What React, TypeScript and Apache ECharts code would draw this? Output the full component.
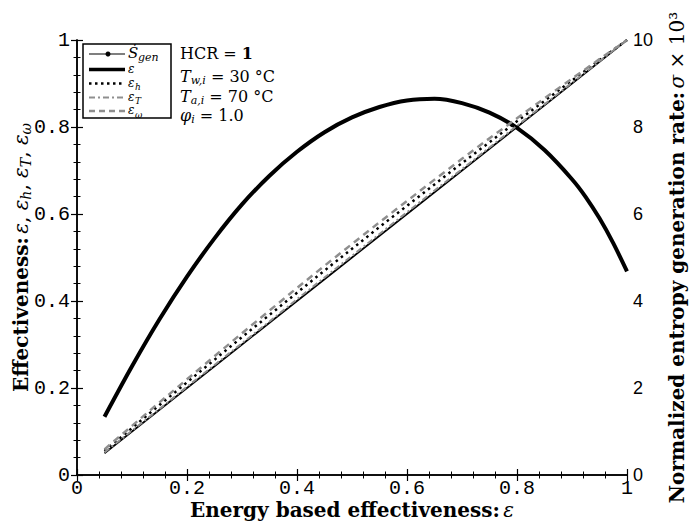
import React, { useEffect, useRef } from "react";
import * as echarts from "echarts";

const xTicks = [0, 0.2, 0.4, 0.6, 0.8, 1];
const sigmaX = [0.05, 0.1, 0.15, 0.2, 0.25, 0.3, 0.35, 0.4, 0.45, 0.5, 0.55, 0.6, 0.65, 0.7, 0.75, 0.8, 0.85, 0.9, 0.925, 0.95, 0.975, 1.0];
const sigmaVals = [1.34, 2.5, 3.58, 4.56, 5.44, 6.22, 6.88, 7.43, 7.88, 8.22, 8.46, 8.61, 8.65, 8.55, 8.33, 7.98, 7.47, 6.8, 6.39, 5.9, 5.33, 4.68];
const xVals = [0.05, 0.1, 0.15, 0.2, 0.25, 0.3, 0.35, 0.4, 0.45, 0.5, 0.55, 0.6, 0.65, 0.7, 0.75, 0.8, 0.85, 0.9, 0.95, 1.0];
const epsVals = [0.05, 0.1, 0.15, 0.2, 0.25, 0.3, 0.35, 0.4, 0.45, 0.5, 0.55, 0.6, 0.65, 0.7, 0.75, 0.8, 0.85, 0.9, 0.95, 1.0];
const epsHVals = [0.055, 0.108, 0.161, 0.213, 0.265, 0.317, 0.368, 0.419, 0.47, 0.52, 0.57, 0.619, 0.668, 0.717, 0.765, 0.813, 0.86, 0.907, 0.954, 1.0];
const epsTVals = [0.052, 0.102, 0.152, 0.203, 0.253, 0.303, 0.353, 0.404, 0.454, 0.504, 0.554, 0.604, 0.654, 0.703, 0.753, 0.803, 0.852, 0.902, 0.951, 1.0];
const epsWVals = [0.059, 0.113, 0.167, 0.22, 0.273, 0.326, 0.378, 0.43, 0.481, 0.531, 0.581, 0.63, 0.679, 0.727, 0.774, 0.82, 0.866, 0.911, 0.956, 1.0];

const legendMain = ["Ṡ", "ε", "ε", "ε", "ε"];
const legendSub = ["gen", "", "h", "T", "ω"];
const infoLines = ["{n|HCR = }{b|1}", "{i|T}{s|w,i}{n| = 30 °C}", "{i|T}{s|a,i}{n| = 70 °C}", "{i|φ}{s|i}{n| = 1.0}"];

const SERIF = "DejaVu Serif";
const GRAY = "#8f8f8f";

const pairs = (xs: number[], ys: number[]) => xs.map((x, i) => [x, ys[i]]);

export default function App() {
  const ref = useRef<HTMLDivElement>(null);
  useEffect(() => {
    if (!ref.current) return;
    const chart = echarts.init(ref.current, undefined, { renderer: "svg" });
    const tickCommon = {
      axisLine: { show: true, lineStyle: { color: "#000", width: 1.5 } },
      axisTick: { show: true, inside: true, length: 6, lineStyle: { color: "#000", width: 1.2 } },
      minorTick: { show: true, splitNumber: 5, length: 3.5, lineStyle: { color: "#000", width: 1 } },
      splitLine: { show: false },
      minorSplitLine: { show: false },
    };
    const mkRich = (lh: number) => ({
      b: { fontFamily: SERIF, fontWeight: "bold", fontSize: 20, color: "#000", lineHeight: lh },
      i: { fontFamily: SERIF, fontStyle: "italic", fontSize: 20, color: "#000", lineHeight: lh },
      n: { fontFamily: SERIF, fontSize: 20, color: "#000", lineHeight: lh },
      s: { fontFamily: SERIF, fontStyle: "italic", fontSize: 14, color: "#000", verticalAlign: "bottom", lineHeight: lh },
    });
    const rowY = [54, 69.5, 83.5, 97.5, 111];
    const rowStyle = [
      { color: "#000", width: 1.2, dash: null as any, dot: true },
      { color: "#000", width: 3.5, dash: null as any, dot: false },
      { color: "#000", width: 2.5, dash: [2.5, 3.5], dot: false },
      { color: GRAY, width: 2.2, dash: [6, 3, 2, 3], dot: false },
      { color: GRAY, width: 2.5, dash: [6, 4], dot: false },
    ];
    const graphics: any[] = [
      { type: "rect", shape: { x: 83, y: 44, width: 88, height: 74 }, style: { fill: "#fff", stroke: "#000", lineWidth: 1.5 }, z: 100 },
    ];
    rowY.forEach((y, k) => {
      const r = rowStyle[k];
      graphics.push({
        type: "line",
        shape: { x1: 89, y1: y, x2: 125, y2: y },
        style: { stroke: r.color, lineWidth: r.width, lineDash: r.dash || undefined },
        z: 101,
      });
      if (r.dot) {
        graphics.push({ type: "circle", shape: { cx: 108, cy: y, r: 2.5 }, style: { fill: "#000" }, z: 102 });
      }
      const isS = k === 0;
      graphics.push({
        type: "text",
        x: 128,
        y: y - 1,
        style: {
          text: legendMain[k],
          fontFamily: SERIF,
          fontStyle: "italic",
          fontSize: isS ? 15 : 12,
          fill: "#000",
          verticalAlign: "middle",
          align: "left",
        },
        z: 102,
      });
      if (legendSub[k]) {
        graphics.push({
          type: "text",
          x: isS ? 138 : 135,
          y: y + 3.5,
          style: {
            text: legendSub[k],
            fontFamily: SERIF,
            fontStyle: "italic",
            fontSize: isS ? 11 : 9,
            fill: "#000",
            verticalAlign: "middle",
            align: "left",
          },
          z: 102,
        });
      }
    });
    const infoRich = {
      n: { fontFamily: SERIF, fontSize: 16, color: "#000", lineHeight: 19 },
      b: { fontFamily: SERIF, fontSize: 16, fontWeight: "bold", color: "#000", lineHeight: 19 },
      i: { fontFamily: SERIF, fontStyle: "italic", fontSize: 16, color: "#000", lineHeight: 19 },
      s: { fontFamily: SERIF, fontStyle: "italic", fontSize: 11, color: "#000", verticalAlign: "bottom", lineHeight: 19, padding: [4, 0, 0, 0] },
    };
    const infoY = [53, 76, 96, 115];
    infoLines.forEach((t, k) => {
      graphics.push({
        type: "text",
        x: 180,
        y: infoY[k],
        style: { text: t, rich: infoRich, verticalAlign: "middle", align: "left" },
        z: 102,
      });
    });

    chart.setOption({
      animation: false,
      backgroundColor: "#fff",
      grid: { left: 77, right: 62, top: 40, bottom: 48, containLabel: false, outerBoundsMode: "none" },
      xAxis: [
        {
          type: "value",
          min: xTicks[0],
          max: xTicks[xTicks.length - 1],
          interval: 0.2,
          position: "bottom",
          ...tickCommon,
          axisLabel: { fontFamily: "Liberation Mono", fontSize: 20, lineHeight: 20, color: "#000", margin: 3 },
          name: "{b|Energy based effectiveness:} {i|ε}",
          nameLocation: "middle",
          nameGap: 25,
          nameMoveOverlap: false,
          nameTextStyle: { rich: mkRich(20) },
        },
        {
          type: "value",
          min: xTicks[0],
          max: xTicks[xTicks.length - 1],
          interval: 0.2,
          position: "top",
          ...tickCommon,
          axisLabel: { show: false },
        },
      ],
      yAxis: [
        {
          type: "value",
          min: 0,
          max: 1,
          interval: 0.2,
          position: "left",
          ...tickCommon,
          axisLabel: { fontFamily: "Liberation Mono", fontSize: 20, color: "#000", margin: 7 },
          name: "{b|Effectiveness:} {i|ε}{n|, }{i|ε}{s|h}{n|, }{i|ε}{s|T}{n|, }{i|ε}{s|ω}",
          nameLocation: "middle",
          nameRotate: 90,
          nameGap: 44,
          nameMoveOverlap: false,
          nameTextStyle: { rich: mkRich(24) },
        },
        {
          type: "value",
          min: 0,
          max: 10,
          interval: 2,
          position: "right",
          ...tickCommon,
          axisLabel: { fontFamily: "Liberation Sans", fontSize: 18, color: "#000", margin: 6 },
          name: "{b|Normalized entropy generation rate:} {i|σ}{n| × 10³}",
          nameLocation: "middle",
          nameRotate: 90,
          nameGap: 38,
          nameMoveOverlap: false,
          nameTextStyle: { rich: mkRich(24) },
        },
      ],
      series: [
        {
          name: "Sgen",
          type: "line",
          yAxisIndex: 1,
          data: pairs(sigmaX, sigmaVals),
          smooth: 0.3,
          showSymbol: false,
          lineStyle: { color: "#000", width: 4 },
          z: 2,
        },
        {
          name: "eps",
          type: "line",
          data: pairs(xVals, epsVals),
          showSymbol: false,
          lineStyle: { color: "#000", width: 1.8 },
          z: 3,
        },
        {
          name: "epsH",
          type: "line",
          data: pairs(xVals, epsHVals),
          showSymbol: false,
          lineStyle: { color: "#000", width: 2.5, type: [2.5, 4] },
          z: 4,
        },
        {
          name: "epsT",
          type: "line",
          data: pairs(xVals, epsTVals),
          showSymbol: false,
          lineStyle: { color: GRAY, width: 2, type: [6, 3, 2, 3] },
          z: 5,
        },
        {
          name: "epsW",
          type: "line",
          data: pairs(xVals, epsWVals),
          showSymbol: false,
          lineStyle: { color: GRAY, width: 2.5, type: [7, 5] },
          z: 6,
        },
      ],
      graphic: graphics,
    });
    return () => chart.dispose();
  }, []);
  return (
    <div
      ref={ref}
      style={{ position: "fixed", left: 0, top: 0, width: 689, height: 523, background: "#fff" }}
    />
  );
}
